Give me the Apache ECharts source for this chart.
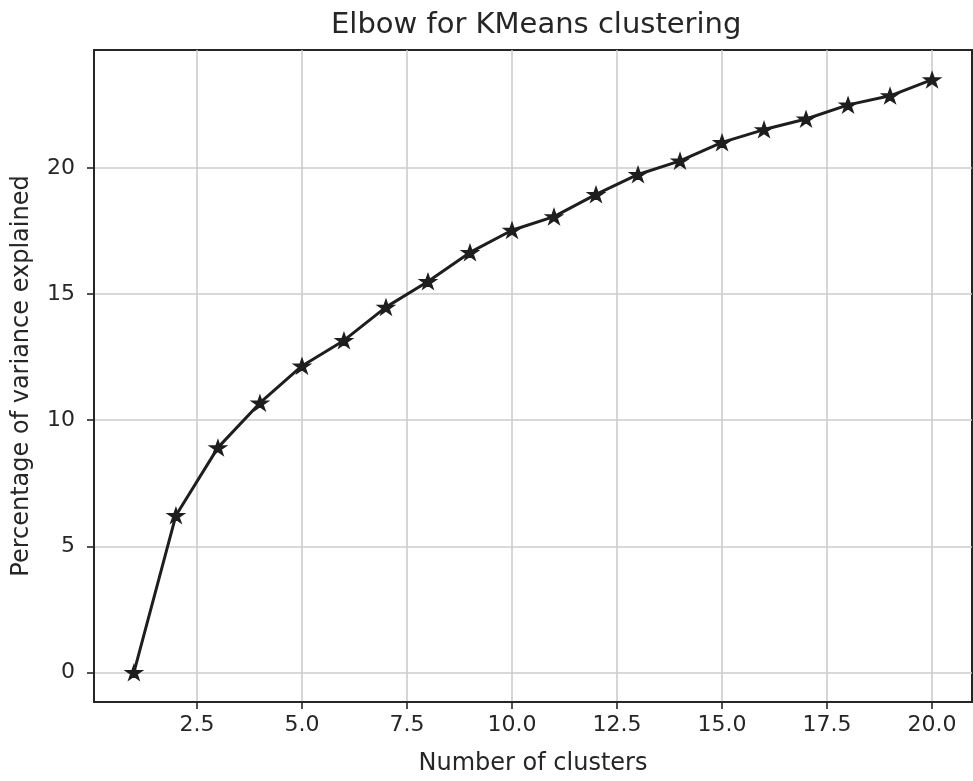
<!DOCTYPE html>
<html>
<head>
<meta charset="utf-8">
<script src="https://cdn.jsdelivr.net/npm/echarts@6/dist/echarts.min.js"></script>
<style>
html,body{margin:0;padding:0;background:#fff;}
#chart{width:973px;height:781px;}
</style>
</head>
<body>
<div id="chart"></div>
<script>
const clusters = [1,2,3,4,5,6,7,8,9,10,11,12,13,14,15,16,17,18,19,20];
const variance = [0.0,6.22,8.91,10.68,12.15,13.16,14.48,15.50,16.65,17.53,18.07,18.95,19.74,20.28,21.01,21.52,21.94,22.50,22.86,23.50];
const xTicks = [2.5,5.0,7.5,10.0,12.5,15.0,17.5,20.0];
const yTicks = [0,5,10,15,20];

const starPath = 'path://M100,0 L122.45,69.1 L195.1,69.1 L136.3,111.8 L158.8,180.9 L100,138.2 L41.2,180.9 L63.7,111.8 L4.9,69.1 L77.55,69.1 Z';
const ink = '#262626';
const font = 'DejaVu Sans';

const chart = echarts.init(document.getElementById('chart'), null, {renderer:'canvas'});
chart.setOption({
  animation:false,
  backgroundColor:'#ffffff',
  title:{
    text:'Elbow for KMeans clustering',
    left:326, top:6,
    textStyle:{fontFamily:font, fontSize:29, fontWeight:'normal', color:ink}
  },
  grid:{left:94, right:1, top:50, bottom:76, show:true, borderColor:ink, borderWidth:2, backgroundColor:'transparent'},
  xAxis:{
    type:'value', min:0.05, max:20.95,
    name:'Number of clusters', nameLocation:'middle', nameGap:50,
    nameTextStyle:{fontFamily:font, fontSize:24, color:ink},
    axisLine:{show:true, onZero:false, lineStyle:{color:ink, width:2}},
    axisTick:{show:true, length:7, lineStyle:{color:ink, width:1.6}, customValues:xTicks},
    axisLabel:{fontFamily:font, fontSize:22, color:ink, margin:12, customValues:xTicks,
      formatter:v=>Number(v).toFixed(1)},
    splitLine:{show:true, lineStyle:{color:'#cccccc', width:1.6}}
  },
  yAxis:{
    type:'value', min:-1.175, max:24.675,
    name:'Percentage of variance explained', nameLocation:'middle', nameGap:60,
    nameTextStyle:{fontFamily:font, fontSize:24, color:ink},
    axisLine:{show:true, onZero:false, lineStyle:{color:ink, width:2}},
    axisTick:{show:true, length:7, lineStyle:{color:ink, width:1.6}, customValues:yTicks},
    axisLabel:{fontFamily:font, fontSize:22, color:ink, margin:19, customValues:yTicks,
      formatter:v=>String(Math.round(v))},
    splitLine:{show:true, lineStyle:{color:'#cccccc', width:1.6}}
  },
  series:[{
    type:'line',
    data:clusters.map((c,i)=>[c, variance[i]]),
    symbol:starPath, symbolSize:[16,15], symbolKeepAspect:true,
    showAllSymbol:true,
    lineStyle:{color:'#1e1e1e', width:3},
    itemStyle:{color:'#1e1e1e', borderColor:'#1e1e1e', borderWidth:1.5},
    z:5
  }]
});
</script>
</body>
</html>
